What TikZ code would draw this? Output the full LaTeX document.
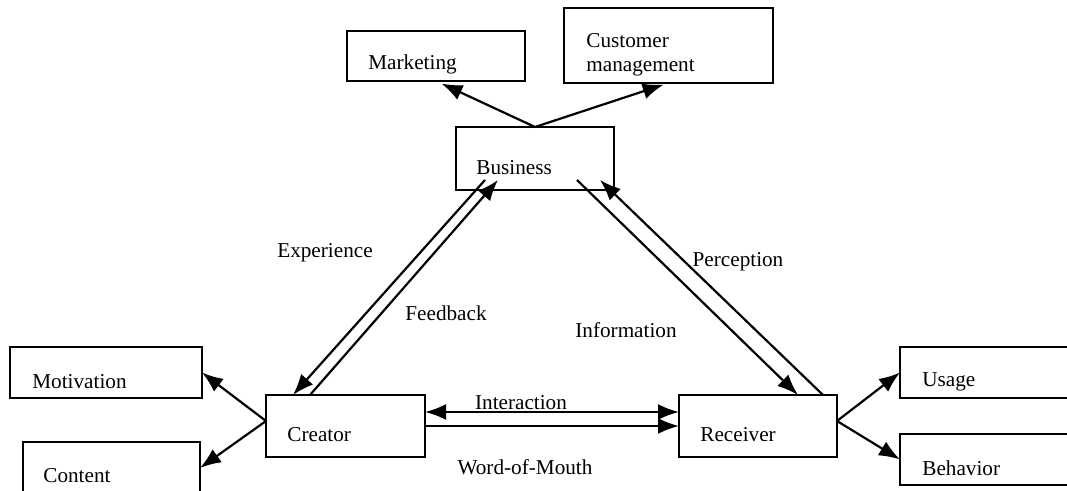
\documentclass[tikz,border=0pt]{standalone}
\usepackage{fontspec}
\setmainfont{Liberation Serif}
\usetikzlibrary{arrows.meta}
\begin{document}
	\begin{tikzpicture}[x=0.5pt, y=-0.5pt, font=\fontsize{10.6}{12}\selectfont,
		box/.style={draw, line width=0.8pt, rectangle, inner sep=0mm, outer sep=0mm},
		txt/.style={inner sep=0mm, anchor=west, align=left},
		lbl/.style={inner sep=0mm},
		tip/.tip={Latex[length=10.5pt, width=8pt]},
		arr/.style={line width=1.1pt, -tip},
		arrs/.style={line width=1.1pt, tip-tip}]
		\useasboundingbox (0,0) rectangle (1067,491);
		\node[box, minimum width=89pt, minimum height=25pt] at (436,56) (mkt) {};
		\node[box, minimum width=104.5pt, minimum height=37.5pt] at (668.5,45.5) (cm) {};
		\node[box, minimum width=79pt, minimum height=31.5pt] at (535,158.5) (bus) {};
		\node[box, minimum width=96pt, minimum height=25.5pt] at (106,372.5) (mot) {};
		\node[box, minimum width=88.5pt, minimum height=26pt] at (111.5,468) (con) {};
		\node[box, minimum width=79.5pt, minimum height=31pt] at (345.5,426) (cre) {};
		\node[box, minimum width=79pt, minimum height=31pt] at (758,426) (rec) {};
		\node[box, minimum width=87pt, minimum height=25.5pt] at (987,372.5) (use) {};
		\node[box, minimum width=87pt, minimum height=25.5pt] at (987,459.5) (beh) {};
		\node[txt] at (368,64) (mkttxt) {Marketing};
		\node[txt] at (586,55) (cmtxt) {Customer\\management};
		\node[txt] at (476,168) (bustxt) {Business};
		\node[txt] at (32,382) (mottxt) {Motivation};
		\node[txt] at (43,476) (contxt) {Content};
		\node[txt] at (287,435) (cretxt) {Creator};
		\node[txt] at (700,435) (rectxt) {Receiver};
		\node[txt] at (922,382) (usetxt) {Usage};
		\node[txt] at (922,468) (behtxt) {Behavior};
		\node[lbl] at (325,253) (exp) {Experience};
		\node[lbl] at (446,313) (fbk) {Feedback};
		\node[lbl] at (738,262) (per) {Perception};
		\node[lbl] at (626,330) (inf) {Information};
		\node[lbl] at (521,403) (int) {Interaction};
		\node[lbl] at (525,467) (wom) {Word-of-Mouth};
		\draw[arr, shorten >=3pt] (bus.north) -- (mkt.south);
		\draw[arr, shorten >=2.5pt] (bus.north) -- (cm.south);
		\draw[arr] ([xshift=-25pt, yshift=5pt]bus.south) -- ([xshift=13.5pt]cre.north west);
		\draw[arr] ([xshift=22pt]cre.north west) -- ([xshift=-18.5pt, yshift=5pt]bus.south);
		\draw[arr] ([xshift=21pt, yshift=5pt]bus.south) -- ([xshift=20pt]rec.north);
		\draw[arr] ([xshift=32.5pt]rec.north) -- ([xshift=32.5pt, yshift=5pt]bus.south);
		\draw[arrs] ([yshift=7pt]cre.east) -- ([yshift=7pt]rec.west);
		\draw[arr] (cre.east) -- (rec.west);
		\draw[arr] ([yshift=2.5pt]cre.west) -- (mot.east);
		\draw[arr] ([yshift=2.5pt]cre.west) -- (con.east);
		\draw[arr] ([yshift=2.5pt]rec.east) -- (use.west);
		\draw[arr] ([yshift=2.5pt]rec.east) -- (beh.west);
	\end{tikzpicture}
\end{document}
